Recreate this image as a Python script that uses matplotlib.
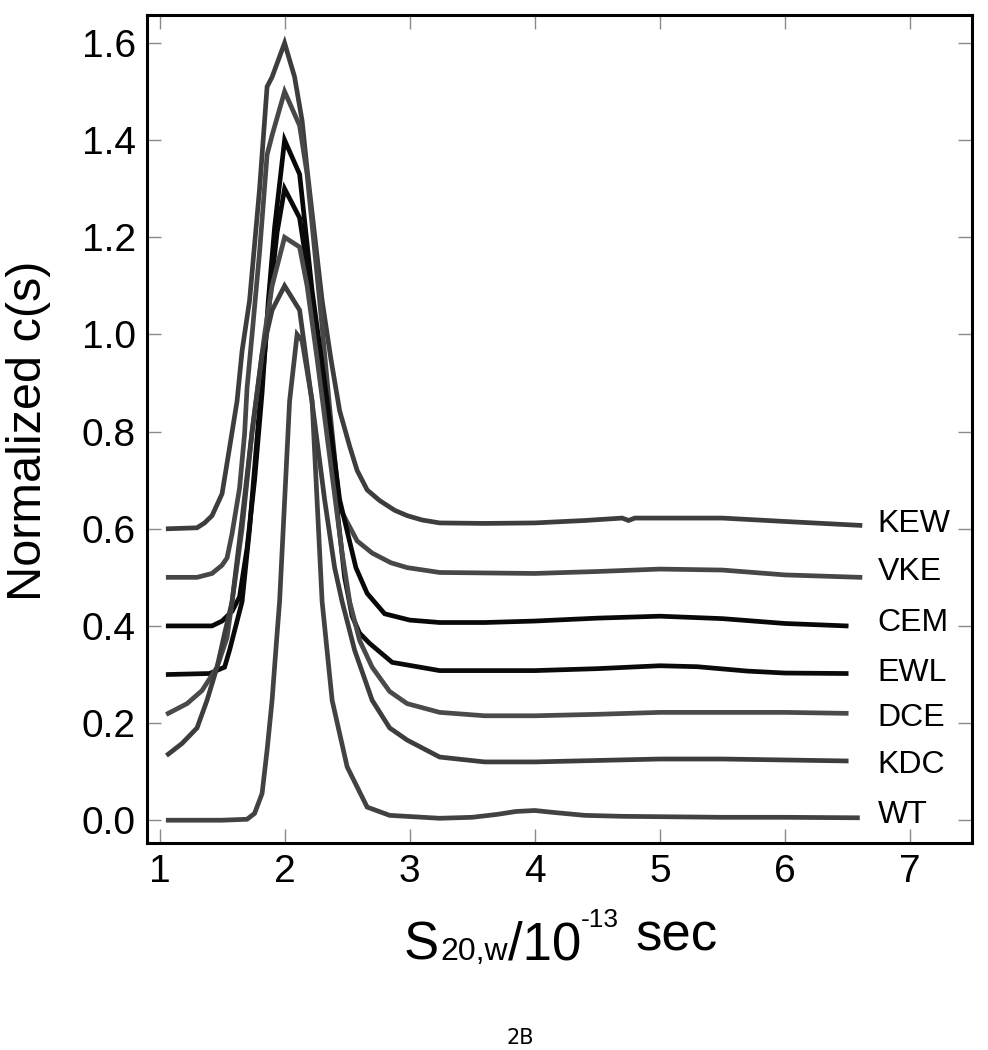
import matplotlib
matplotlib.use("Agg")
import matplotlib.pyplot as plt
from matplotlib import transforms

plt.rcParams['font.family'] = ['Liberation Sans', 'DejaVu Sans']

# sedimentation coefficient (S) and normalized c(s)
kew_s = [1.07, 1.30, 1.36, 1.42, 1.50, 1.56, 1.62, 1.66, 1.72, 1.80, 1.86, 1.90, 2.00, 2.08,
         2.14, 2.18, 2.30, 2.37, 2.44, 2.52, 2.58, 2.66, 2.76, 2.88, 2.98, 3.10, 3.24, 3.6,
         4.0, 4.4, 4.7, 4.75, 4.8, 5.0, 5.5, 6.0, 6.6]
kew_c = [0.600, 0.602, 0.612, 0.627, 0.672, 0.767, 0.863, 0.966, 1.07, 1.30, 1.51, 1.53,
         1.60, 1.53, 1.44, 1.34, 1.07, 0.95, 0.843, 0.77, 0.72, 0.68, 0.658, 0.638, 0.627,
         0.618, 0.612, 0.611, 0.612, 0.617, 0.622, 0.617, 0.622, 0.622, 0.622, 0.615, 0.607]

vke_s = [1.07, 1.30, 1.42, 1.50, 1.54, 1.58, 1.64, 1.68, 1.70, 1.74, 1.80, 1.86, 1.90, 2.00,
         2.12, 2.18, 2.28, 2.36, 2.44, 2.58, 2.70, 2.85, 2.98, 3.24, 4.0, 4.5, 5.0, 5.5, 6.0, 6.6]
vke_c = [0.500, 0.500, 0.508, 0.525, 0.54, 0.59, 0.684, 0.795, 0.89, 1.00, 1.17, 1.37, 1.41,
         1.50, 1.43, 1.33, 1.07, 0.85, 0.643, 0.575, 0.55, 0.53, 0.52, 0.51, 0.508, 0.512,
         0.517, 0.515, 0.505, 0.500]

cem_s = [1.07, 1.42, 1.50, 1.58, 1.64, 1.70, 1.76, 1.82, 1.87, 1.92, 2.00, 2.12, 2.22, 2.34,
         2.44, 2.57, 2.66, 2.80, 3.00, 3.24, 3.6, 4.0, 4.5, 5.0, 5.5, 6.0, 6.49]
cem_c = [0.400, 0.400, 0.410, 0.430, 0.46, 0.56, 0.70, 0.88, 1.07, 1.22, 1.40, 1.33, 1.09,
         0.863, 0.66, 0.52, 0.467, 0.425, 0.412, 0.407, 0.407, 0.410, 0.416, 0.420, 0.415,
         0.405, 0.400]

ewl_s = [1.07, 1.40, 1.52, 1.56, 1.62, 1.66, 1.72, 1.80, 1.88, 1.94, 2.00, 2.12, 2.22, 2.32,
         2.42, 2.48, 2.54, 2.60, 2.68, 2.86, 3.24, 4.0, 4.5, 5.0, 5.3, 5.7, 6.0, 6.49]
ewl_c = [0.300, 0.302, 0.315, 0.35, 0.41, 0.45, 0.60, 0.85, 1.07, 1.21, 1.30, 1.24, 1.07,
         0.86, 0.64, 0.50, 0.42, 0.385, 0.364, 0.325, 0.308, 0.308, 0.312, 0.318, 0.316,
         0.307, 0.303, 0.302]

dce_s = [1.07, 1.22, 1.34, 1.46, 1.54, 1.58, 1.66, 1.74, 1.84, 1.90, 1.96, 2.00, 2.12, 2.18,
         2.26, 2.36, 2.46, 2.52, 2.60, 2.70, 2.84, 2.98, 3.24, 3.6, 4.0, 4.5, 5.0, 5.5, 6.0, 6.49]
dce_c = [0.220, 0.240, 0.267, 0.315, 0.376, 0.45, 0.60, 0.80, 1.00, 1.10, 1.16, 1.20, 1.18,
         1.10, 0.95, 0.75, 0.55, 0.45, 0.37, 0.315, 0.265, 0.240, 0.222, 0.215, 0.215, 0.218,
         0.222, 0.222, 0.222, 0.220]

kdc_s = [1.07, 1.18, 1.30, 1.38, 1.46, 1.52, 1.58, 1.66, 1.74, 1.82, 1.90, 2.00, 2.12, 2.22,
         2.32, 2.40, 2.46, 2.56, 2.70, 2.84, 2.98, 3.24, 3.6, 4.0, 4.5, 5.0, 5.5, 6.0, 6.49]
kdc_c = [0.136, 0.158, 0.190, 0.247, 0.315, 0.384, 0.45, 0.62, 0.80, 0.96, 1.05, 1.10, 1.05,
         0.86, 0.66, 0.52, 0.45, 0.35, 0.247, 0.19, 0.165, 0.130, 0.120, 0.120, 0.123, 0.126,
         0.126, 0.124, 0.122]

wt_s = [1.07, 1.50, 1.70, 1.76, 1.82, 1.86, 1.90, 1.94, 1.96, 2.04, 2.10, 2.14, 2.22, 2.30,
        2.38, 2.50, 2.66, 2.84, 3.24, 3.5, 3.7, 3.85, 4.0, 4.15, 4.4, 4.7, 5.5, 6.0, 6.58]
wt_c = [0.000, 0.000, 0.002, 0.014, 0.055, 0.144, 0.247, 0.384, 0.45, 0.863, 1.00, 0.987,
        0.863, 0.45, 0.247, 0.11, 0.027, 0.010, 0.004, 0.006, 0.012, 0.018, 0.020, 0.016,
        0.010, 0.008, 0.006, 0.006, 0.005]

names = ['KEW', 'VKE', 'CEM', 'EWL', 'DCE', 'KDC', 'WT']
label_y = [0.61, 0.51, 0.405, 0.304, 0.21, 0.113, 0.01]
label_s = 6.74


def draw_xlabel(fig, pieces, x_center, baseline):
    # lay out the mixed-size axis title piece by piece
    renderer = fig.canvas.get_renderer()
    texts = []
    t = fig.transFigure
    for txt, size, rise, gap in pieces:
        tr = transforms.offset_copy(t, fig=fig, x=gap, y=rise, units='points')
        obj = fig.text(0, baseline, txt, fontsize=size, va='baseline', ha='left', transform=tr)
        obj.draw(renderer)
        ex = obj.get_window_extent(renderer)
        texts.append(obj)
        t = transforms.offset_copy(obj.get_transform(), fig=fig, x=ex.width, y=-rise, units='dots')
    left = texts[0].get_window_extent(renderer).x0
    right = texts[-1].get_window_extent(renderer).x1
    shift = x_center * fig.bbox.width - (left + right) / 2
    for obj in texts:
        obj.set_transform(obj.get_transform() + transforms.Affine2D().translate(shift, 0))


fig = plt.figure(figsize=(9.88, 10.5), dpi=100)
ax = fig.add_axes([0.1488, 0.1971, 0.8355, 0.7886])

curves = [(kew_s, kew_c, '#3d3d3d'), (vke_s, vke_c, '#474747'), (cem_s, cem_c, '#080808'),
          (ewl_s, ewl_c, '#0a0a0a'), (dce_s, dce_c, '#4a4a4a'), (kdc_s, kdc_c, '#3d3d3d'),
          (wt_s, wt_c, '#424242')]
for (s, c, col), name, ly in zip(curves, names, label_y):
    ax.plot(s, c, color=col, lw=3.4, solid_joinstyle='miter')
    ax.text(label_s, ly, name, fontsize=23, va='center', ha='left')

ax.set_xlim(0.9, 7.5)
ax.set_ylim(-0.047, 1.6576)
ax.set_xticks([1, 2, 3, 4, 5, 6, 7])
ax.set_yticks([0.0, 0.2, 0.4, 0.6, 0.8, 1.0, 1.2, 1.4, 1.6])
ax.yaxis.set_major_formatter(matplotlib.ticker.FormatStrFormatter('%.1f'))
ax.tick_params(direction='in', length=10, width=1.0, color='#8a8a8a',
               top=True, right=True, labelsize=28, pad=8)
for sp in ax.spines.values():
    sp.set_linewidth(2.2)

fig.text(0.029, 0.59, 'Normalized c(s)', fontsize=35, rotation=90, ha='center', va='center')

draw_xlabel(fig, [('S', 38, 0, 0), ('20,w', 23, 0, 1), ('/10', 38, 0, 0),
                  ('-13', 19, 24, 0), ('sec', 38, 0, 12)], 0.5678, 1 - 960 / 1050)

fig.text(0.527, 1 - 1044 / 1050, '2B', fontsize=15, family='DejaVu Sans', ha='center', va='baseline')

fig.savefig('out.png', dpi=100)
